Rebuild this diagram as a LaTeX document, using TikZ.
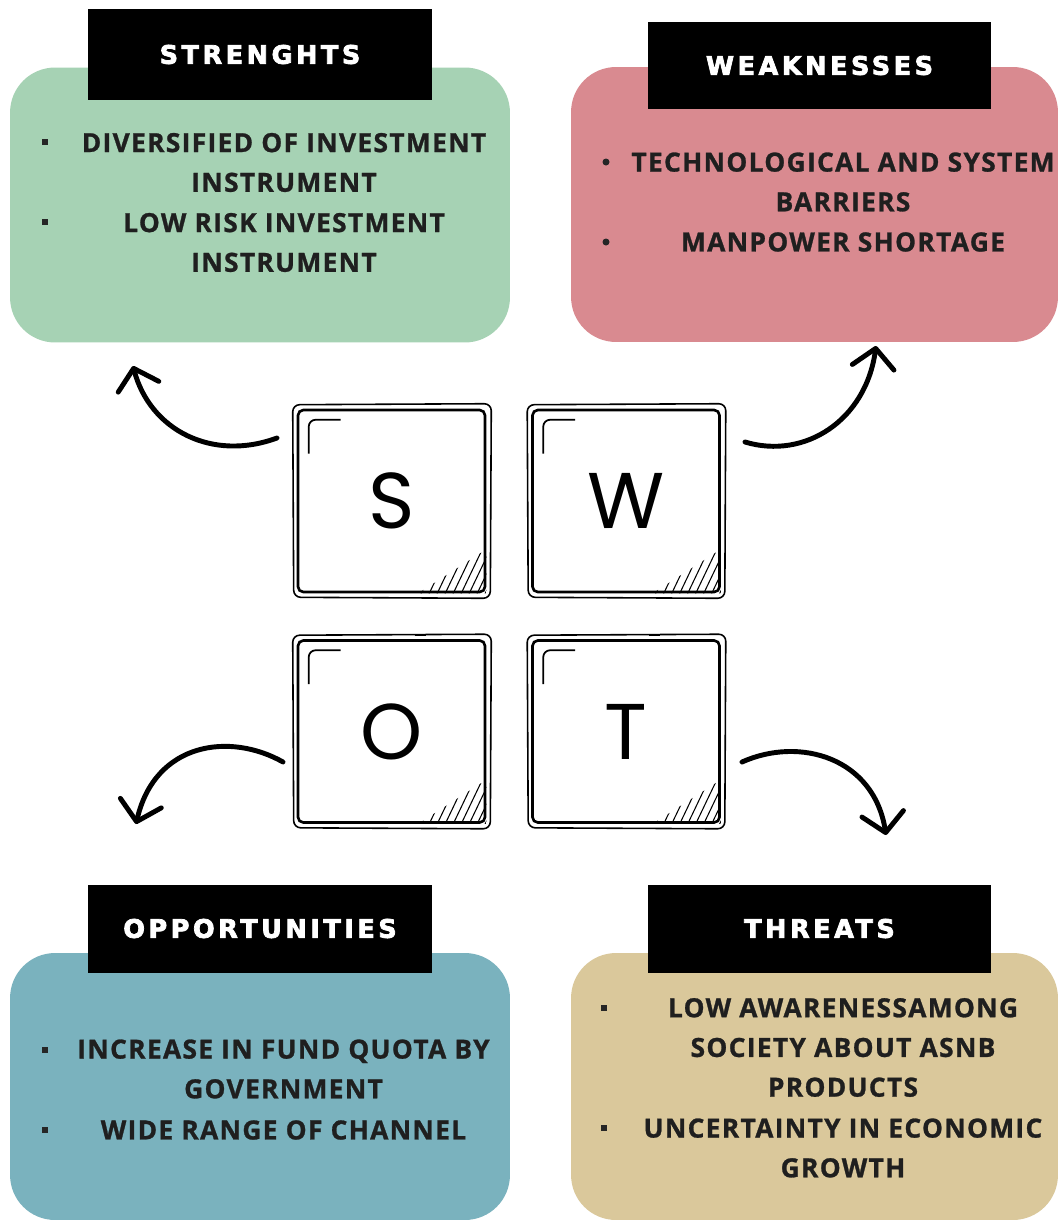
\documentclass[tikz,border=0pt]{standalone}
\usepackage{fontspec}
\usepackage{tikz}
\usepackage{xcolor}
\usetikzlibrary{arrows.meta}

\newfontfamily\bodyfont[LetterSpace=5, BoldFeatures={FakeBold=1}]{Open Sans}
\newfontfamily\headfont[LetterSpace=14, BoldFeatures={FakeBold=3}]{DejaVu Sans}
\newfontfamily\keyfont{Poppins}

\definecolor{strcol}{HTML}{A6D2B4}
\definecolor{weakcol}{HTML}{D98A90}
\definecolor{oppcol}{HTML}{7AB2BE}
\definecolor{thrcol}{HTML}{DAC89B}

\tikzset{
  panel/.style={rounded corners=0.9cm, minimum width=10cm, minimum height=5.5cm},
  heading/.style={fill=black, text=white, minimum width=6.88cm, minimum height=1.76cm,
    font=\headfont\bfseries\fontsize{14.5}{16}\selectfont},
  item/.style={align=center, text=black!88, inner sep=0pt,
    font=\bodyfont\bfseries\fontsize{15}{22.6}\selectfont},
  tile/.style={draw, line width=1.5pt, rounded corners=3pt, minimum width=3.74cm,
    minimum height=3.64cm, font=\keyfont\fontsize{45}{48}\selectfont},
  curlarrow/.style={line width=2.8pt, line cap=round,
    -{Straight Barb[length=3.8mm,width=8.4mm,round]}}
}

\begin{document}
\begin{tikzpicture}[x=0.02cm,y=-0.02cm]
  \fill[white] (0,0) rectangle (1059,1224);

  % the four coloured panels with their black headings
  \node[panel, fill=strcol] (strbox) at (260,205) {};
  \node[panel, fill=weakcol, minimum width=9.74cm] (weakbox) at (814.5,204.5) {};
  \node[panel, fill=oppcol, minimum height=5.34cm] (oppbox) at (260,1086.5) {};
  \node[panel, fill=thrcol, minimum width=9.74cm, minimum height=5.34cm] (thrbox) at (814.5,1086.5) {};

  \node[heading, minimum height=1.82cm] (strhead) at (260,54.5) {STRENGHTS};
  \node[heading] (weakhead) at (819.5,65.5) {WEAKNESSES};
  \node[heading] (opphead) at (260,928.5) {OPPORTUNITIES};
  \node[heading] (thrhead) at (819.5,928.5) {THREATS};

  % bullet points
  \node[item] (str1) at (284,162.5) {DIVERSIFIED OF INVESTMENT\\INSTRUMENT};
  \node[item] (str2) at (284,242.5) {LOW RISK INVESTMENT\\INSTRUMENT};
  \node[item] (weak1) at (843,182) {TECHNOLOGICAL AND SYSTEM\\BARRIERS};
  \node[item] (weak2) at (843,242) {MANPOWER SHORTAGE};
  \node[item] (opp1) at (283.5,1069) {INCREASE IN FUND QUOTA BY\\GOVERNMENT};
  \node[item] (opp2) at (283.5,1130) {WIDE RANGE OF CHANNEL};
  \node[item] (thr1) at (843,1047.5) {LOW AWARENESSAMONG\\SOCIETY ABOUT ASNB\\PRODUCTS};
  \node[item] (thr2) at (843,1148) {UNCERTAINTY IN ECONOMIC\\GROWTH};

  \foreach \bx/\by in {45/142, 45/222, 45/1050, 45/1130, 604/1008, 604/1128}
    \fill[black!85] (\bx-3,\by-3) rectangle (\bx+3,\by+3);
  \foreach \by in {162,242}
    \fill[black!85] (606,\by) circle (3.5);

  % sketched letter tiles
  \foreach \nm/\cx/\cy/\ch in {tS/391.5/501/S, tW/626/501/W, tO/391.5/731.5/O, tT/626/731.5/T}{
    \node[tile] (\nm) at (\cx,\cy) {\ch};
    \draw[line width=0.9pt, rounded corners=4pt]
      ([shift={(-4,-4)}]\nm.north west) -- ([shift={(5,-5)}]\nm.north east)
      -- ([shift={(4,5)}]\nm.south east) -- ([shift={(-3,4)}]\nm.south west) -- cycle;
    \draw[line width=1pt, rounded corners=4pt]
      ([shift={(12,45)}]\nm.north west) |- ([shift={(44,11)}]\nm.north west);
    \begin{scope}
      \clip ([shift={(-68,0)}]\nm.south east) -- (\nm.south east)
        -- ([shift={(0,-44)}]\nm.south east) -- cycle;
      \foreach \k in {0,...,9}
        \draw[line width=0.6pt] ([shift={(-74+8*\k,2)}]\nm.south east) -- ++(22,-46);
    \end{scope}
  }
  \foreach \nm in {tO,tT}
    \draw[line width=0.6pt] ([shift={(23,-4)}]\nm.north) -- ++(11,0)
      ([shift={(23,2)}]\nm.north) -- ++(11,0);

  % curved arrows out to the panels
  \coordinate (sFrom) at (277,438);  \coordinate (sTo) at (133,366);
  \coordinate (wFrom) at (745,442);  \coordinate (wTo) at (876,346);
  \coordinate (oFrom) at (283,762);  \coordinate (oTo) at (136,824);
  \coordinate (tFrom) at (742,762);  \coordinate (tTo) at (886,835);
  \draw[curlarrow] (sFrom) .. controls (212,462) and (150,430) .. (sTo);
  \draw[curlarrow] (wFrom) .. controls (805,460) and (866,420) .. (wTo);
  \draw[curlarrow] (oFrom) .. controls (230,732) and (155,742) .. (oTo);
  \draw[curlarrow] (tFrom) .. controls (800,736) and (874,758) .. (tTo);
\end{tikzpicture}
\end{document}
